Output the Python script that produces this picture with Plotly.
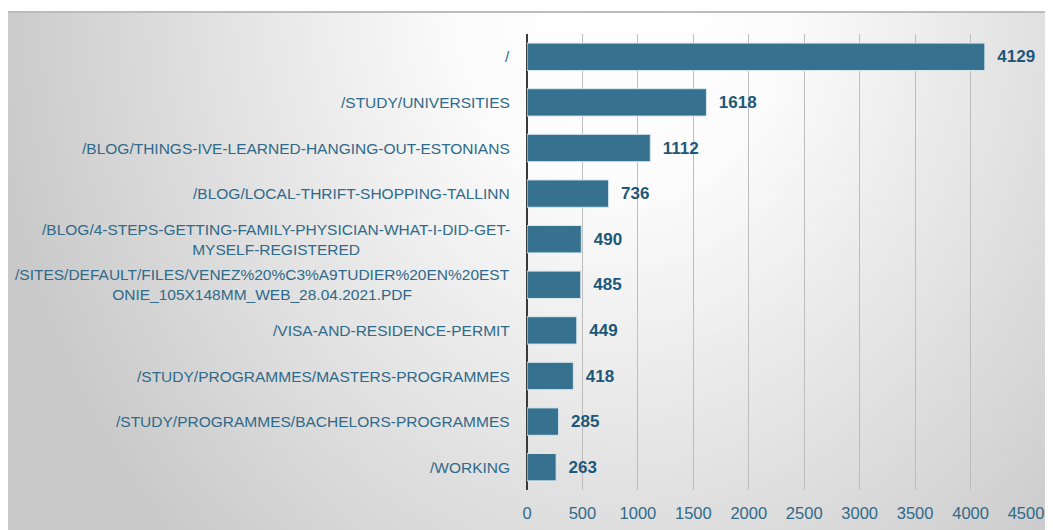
import base64
import plotly.graph_objects as go

pages = [
    "/",
    "/STUDY/UNIVERSITIES",
    "/BLOG/THINGS-IVE-LEARNED-HANGING-OUT-ESTONIANS",
    "/BLOG/LOCAL-THRIFT-SHOPPING-TALLINN",
    "/BLOG/4-STEPS-GETTING-FAMILY-PHYSICIAN-WHAT-I-DID-GET-<br>MYSELF-REGISTERED",
    "/SITES/DEFAULT/FILES/VENEZ%20%C3%A9TUDIER%20EN%20EST<br>ONIE_105X148MM_WEB_28.04.2021.PDF",
    "/VISA-AND-RESIDENCE-PERMIT",
    "/STUDY/PROGRAMMES/MASTERS-PROGRAMMES",
    "/STUDY/PROGRAMMES/BACHELORS-PROGRAMMES",
    "/WORKING",
]
views = [4129, 1618, 1112, 736, 490, 485, 449, 418, 285, 263]
x_ticks = [0, 500, 1000, 1500, 2000, 2500, 3000, 3500, 4000, 4500]

# page body adds an 8px margin, so the figure starts at (8, 8)
W, H = 1045, 522
ML, MR, MT, MB = 519, 27, 26, 40
pw, ph = W - ML - MR, H - MT - MB
TOP = 4  # grey border line, px from figure top

label_col = "#2f6a8a"
value_col = "#1d5878"
bar_col = "#36718f"
font = "Liberation Sans, Arial"

# radial grey background, white near the top middle
svg = (
    f'<svg xmlns="http://www.w3.org/2000/svg" width="{W}" height="{H - TOP}">'
    '<defs><radialGradient id="g" gradientUnits="userSpaceOnUse" cx="0" cy="0" r="1" '
    'gradientTransform="translate(615,-20) scale(640,780)">'
    '<stop offset="0" stop-color="#ffffff"/><stop offset="0.25" stop-color="#fcfcfc"/>'
    '<stop offset="1" stop-color="#c9c9c9"/></radialGradient></defs>'
    '<rect width="100%" height="100%" fill="url(#g)"/></svg>'
)
bg_src = "data:image/svg+xml;base64," + base64.b64encode(svg.encode()).decode()

fig = go.Figure(go.Bar(
    y=pages, x=views, orientation="h",
    marker=dict(color=bar_col, line=dict(color="#d9e7ee", width=1)),
    width=0.6,
    texttemplate="\u00a0\u00a0%{x}", textposition="outside",
    textfont=dict(family=font, size=17, color=value_col, weight="bold"),
    cliponaxis=False, constraintext="none",
))

for p in pages:
    fig.add_annotation(x=0, y=p, xref="x", yref="y", text=p, showarrow=False,
                       xanchor="right", align="center", xshift=-15,
                       font=dict(family=font, size=15.5, color=label_col))

fig.add_layout_image(dict(
    source=bg_src, xref="paper", yref="paper",
    x=-ML / pw, y=(H - MB - TOP) / ph,
    sizex=W / pw, sizey=(H - TOP) / ph,
    xanchor="left", yanchor="top", sizing="stretch", layer="below",
))
fig.add_shape(type="line", xref="paper", yref="paper",
              x0=-ML / pw, x1=(W - ML) / pw,
              y0=(H - MB - TOP) / ph, y1=(H - MB - TOP) / ph,
              line=dict(color="#bcbcbc", width=2))

fig.update_layout(
    width=W, height=H,
    margin=dict(l=ML, r=MR, t=MT, b=MB, autoexpand=False),
    paper_bgcolor="white", plot_bgcolor="rgba(0,0,0,0)",
    showlegend=False,
    xaxis=dict(range=[0, 4500], tickvals=x_ticks, showgrid=True, gridcolor="#bdbdbd",
               gridwidth=1, zeroline=True, zerolinecolor="#3a3a3a", zerolinewidth=2,
               ticklabelstandoff=11, fixedrange=True, automargin=False,
               tickfont=dict(family=font, size=16.5, color=label_col)),
    yaxis=dict(autorange="reversed", showticklabels=False, showgrid=False,
               fixedrange=True, automargin=False),
)

fig.write_html("out.html")
